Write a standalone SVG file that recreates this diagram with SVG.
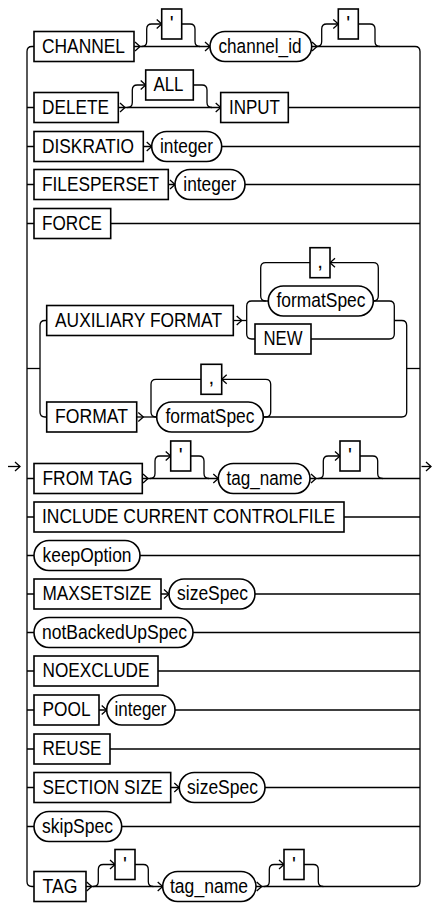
<svg xmlns="http://www.w3.org/2000/svg" xmlns:xlink="http://www.w3.org/1999/xlink" width="432" height="905" viewBox="0 0 432 905">
<style>
.ln{fill:none;stroke:#000;stroke-width:1.3}
.bx{fill:#fff;stroke:#000;stroke-width:1.6}
.t{font-family:"Liberation Sans",Arial,sans-serif;font-size:20.5px;fill:#000}
.c{text-anchor:middle}
</style>
<defs>
<path id="ar" d="M-5,-4.5 L0,0 L-5,4.5" fill="none" stroke="#000" stroke-width="1.3"/>
<path id="al" d="M5,-4.5 L0,0 L5,4.5" fill="none" stroke="#000" stroke-width="1.3"/>
</defs>
<rect width="432" height="905" fill="#fff"/>
<g id="connectors">
<path class="ln" d="M34,46.5 H32 Q27,46.5 27,51.5 V881.5 Q27,886.5 32,886.5 H34"/>
<path class="ln" d="M410,46.5 H415 Q420,46.5 420,51.5 V881.5 Q420,886.5 415,886.5 H410"/>
<path class="ln" d="M8,466.5 H20"/><use href="#ar" x="20" y="466.5"/>
<path class="ln" d="M421.5,466.5 H431"/><use href="#ar" x="431" y="466.5"/>
<!-- R1 -->
<path class="ln" d="M34,46.5 H410"/>
<path class="ln" d="M141.7,46.5 Q146.7,46.5 146.7,41.5 V29 Q146.7,24 151.7,24 H161.7"/>
<path class="ln" d="M181.7,24 H190 Q195,24 195,29 V41.5 Q195,46.5 200,46.5"/>
<path class="ln" d="M316.7,46.5 Q321.7,46.5 321.7,41.5 V29 Q321.7,24 326.7,24 H338.3"/>
<path class="ln" d="M358.3,24 H370 Q375,24 375,29 V41.5 Q375,46.5 380,46.5"/>
<use href="#ar" x="140" y="46.5"/><use href="#ar" x="161.7" y="24"/><use href="#ar" x="210" y="46.5"/>
<use href="#ar" x="317" y="46.5"/><use href="#ar" x="338.3" y="24"/>
<!-- R2 -->
<path class="ln" d="M27,107.5 H420"/>
<path class="ln" d="M127.3,107.5 Q132.3,107.5 132.3,102.5 V90 Q132.3,85 137.3,85 H145.7"/>
<path class="ln" d="M193.3,85 H202 Q207,85 207,90 V102.5 Q207,107.5 212,107.5"/>
<use href="#ar" x="125" y="107.5"/><use href="#ar" x="145.7" y="85"/><use href="#ar" x="220.7" y="107.5"/>
<!-- R3-R5 -->
<path class="ln" d="M27,146.5 H420"/><use href="#ar" x="151.7" y="146.5"/>
<path class="ln" d="M27,184.5 H420"/><use href="#ar" x="175" y="184.5"/>
<path class="ln" d="M27,223.5 H420"/>
<!-- group AUX / FORMAT -->
<path class="ln" d="M27,368.5 H40"/>
<path class="ln" d="M406.7,368.5 H420"/>
<path class="ln" d="M46.7,320.5 H45 Q40,320.5 40,325.5 V412 Q40,417 45,417 H46.7"/>
<path class="ln" d="M233.3,320.5 H246.7"/><use href="#ar" x="241.7" y="320.5"/>
<path class="ln" d="M268.3,301 H251.7 Q246.7,301 246.7,306 V334 Q246.7,339 251.7,339 H255"/>
<path class="ln" d="M310,262.7 H265.7 Q260.7,262.7 260.7,267.7 V296 Q260.7,301 265.7,301"/>
<path class="ln" d="M373.3,301 Q378.3,301 378.3,296 V267.7 Q378.3,262.7 373.3,262.7 H330"/>
<use href="#al" x="330" y="262.7"/>
<path class="ln" d="M373.3,301 H389.3 Q394.3,301 394.3,306 V334 Q394.3,339 389.3,339 H311"/>
<path class="ln" d="M394.3,320.5 H401.7 Q406.7,320.5 406.7,325.5 V412 Q406.7,417 401.7,417 H263.3"/>
<path class="ln" d="M136.7,417 H156.7"/><use href="#ar" x="143.3" y="417"/>
<path class="ln" d="M201,379.3 H156 Q151,379.3 151,384.3 V412 Q151,417 156,417"/>
<path class="ln" d="M263.3,417 H265.7 Q270.7,417 270.7,412 V384.3 Q270.7,379.3 265.7,379.3 H221.7"/>
<use href="#al" x="221.7" y="379.3"/>
<!-- R6 -->
<path class="ln" d="M27,478.5 H420"/>
<path class="ln" d="M150,478.5 Q155,478.5 155,473.5 V461 Q155,456 160,456 H170.7"/>
<path class="ln" d="M190.7,456 H199 Q204,456 204,461 V473.5 Q204,478.5 209,478.5"/>
<path class="ln" d="M318.3,478.5 Q323.3,478.5 323.3,473.5 V461 Q323.3,456 328.3,456 H340"/>
<path class="ln" d="M360,456 H372.7 Q377.7,456 377.7,461 V473.5 Q377.7,478.5 382.7,478.5"/>
<use href="#ar" x="148" y="478.5"/><use href="#ar" x="170.7" y="456"/><use href="#ar" x="218.3" y="478.5"/>
<use href="#ar" x="316" y="478.5"/><use href="#ar" x="340" y="456"/>
<!-- R7-R15 -->
<path class="ln" d="M27,517 H420"/>
<path class="ln" d="M27,555.5 H420"/>
<path class="ln" d="M27,594 H420"/><use href="#ar" x="169" y="594"/>
<path class="ln" d="M27,632.5 H420"/>
<path class="ln" d="M27,671 H420"/>
<path class="ln" d="M27,710 H420"/><use href="#ar" x="106.7" y="710"/>
<path class="ln" d="M27,749 H420"/>
<path class="ln" d="M27,787.5 H420"/><use href="#ar" x="179.3" y="787.5"/>
<path class="ln" d="M27,826.5 H420"/>
<!-- R16 -->
<path class="ln" d="M34,886.5 H410"/>
<path class="ln" d="M93.3,886.5 Q98.3,886.5 98.3,881.5 V869.5 Q98.3,864.5 103.3,864.5 H115"/>
<path class="ln" d="M135,864.5 H143.3 Q148.3,864.5 148.3,869.5 V881.5 Q148.3,886.5 153.3,886.5"/>
<path class="ln" d="M264.3,886.5 Q269.3,886.5 269.3,881.5 V869.5 Q269.3,864.5 274.3,864.5 H284"/>
<path class="ln" d="M304,864.5 H313.3 Q318.3,864.5 318.3,869.5 V881.5 Q318.3,886.5 323.3,886.5"/>
<use href="#ar" x="91.7" y="886.5"/><use href="#ar" x="115" y="864.5"/><use href="#ar" x="162.7" y="886.5"/>
<use href="#ar" x="261.7" y="886.5"/><use href="#ar" x="284" y="864.5"/>
</g>
<!-- R1 nodes -->
<g id="n-channel"><rect class="bx" x="34" y="31.5" width="100" height="30"/><text class="t" x="42" y="52.5" textLength="83" lengthAdjust="spacingAndGlyphs">CHANNEL</text></g>
<g id="n-q1"><rect class="bx" x="161.7" y="9" width="20" height="30"/><text class="t c" x="171.7" y="30">'</text></g>
<g id="n-channel_id"><rect class="bx" x="210" y="31.5" width="101.7" height="30" rx="15"/><text class="t" x="218.5" y="52.5" textLength="83" lengthAdjust="spacingAndGlyphs">channel_id</text></g>
<g id="n-q2"><rect class="bx" x="338.3" y="9" width="20" height="30"/><text class="t c" x="348.3" y="30">'</text></g>
<!-- R2 -->
<g id="n-delete"><rect class="bx" x="34" y="92.5" width="84.3" height="30"/><text class="t" x="42" y="113.5" textLength="67" lengthAdjust="spacingAndGlyphs">DELETE</text></g>
<g id="n-all"><rect class="bx" x="145.7" y="70" width="47.6" height="30"/><text class="t" x="153.5" y="91" textLength="30" lengthAdjust="spacingAndGlyphs">ALL</text></g>
<g id="n-input"><rect class="bx" x="220.7" y="92.5" width="67.6" height="30"/><text class="t" x="229" y="113.5" textLength="51" lengthAdjust="spacingAndGlyphs">INPUT</text></g>
<!-- R3 -->
<g id="n-diskratio"><rect class="bx" x="34" y="131.5" width="109.3" height="30"/><text class="t" x="42" y="152.5" textLength="92" lengthAdjust="spacingAndGlyphs">DISKRATIO</text></g>
<g id="n-integer1"><rect class="bx" x="151.7" y="131.5" width="70" height="30" rx="15"/><text class="t" x="160" y="152.5" textLength="53" lengthAdjust="spacingAndGlyphs">integer</text></g>
<!-- R4 -->
<g id="n-filesperset"><rect class="bx" x="34" y="169.5" width="134.3" height="30"/><text class="t" x="42" y="190.5" textLength="117" lengthAdjust="spacingAndGlyphs">FILESPERSET</text></g>
<g id="n-integer2"><rect class="bx" x="175" y="169.5" width="70" height="30" rx="15"/><text class="t" x="183.3" y="190.5" textLength="53" lengthAdjust="spacingAndGlyphs">integer</text></g>
<!-- R5 -->
<g id="n-force"><rect class="bx" x="34" y="208.5" width="76.7" height="30"/><text class="t" x="42" y="229.5" textLength="60" lengthAdjust="spacingAndGlyphs">FORCE</text></g>
<!-- group -->
<g id="n-auxformat"><rect class="bx" x="46.7" y="305.5" width="186.6" height="30"/><text class="t" x="55" y="326.5" textLength="167" lengthAdjust="spacingAndGlyphs">AUXILIARY FORMAT</text></g>
<g id="n-comma1"><rect class="bx" x="310" y="247.7" width="20" height="30"/><text class="t c" x="320" y="267.7">,</text></g>
<g id="n-formatspec1"><rect class="bx" x="268.3" y="286" width="105" height="30" rx="15"/><text class="t" x="276.5" y="307" textLength="89" lengthAdjust="spacingAndGlyphs">formatSpec</text></g>
<g id="n-new"><rect class="bx" x="255" y="324" width="56" height="30"/><text class="t" x="263.5" y="345" textLength="39" lengthAdjust="spacingAndGlyphs">NEW</text></g>
<g id="n-format"><rect class="bx" x="46.7" y="402" width="90" height="30"/><text class="t" x="55" y="423" textLength="73" lengthAdjust="spacingAndGlyphs">FORMAT</text></g>
<g id="n-comma2"><rect class="bx" x="201" y="364.3" width="20.7" height="30"/><text class="t c" x="211.3" y="384.3">,</text></g>
<g id="n-formatspec2"><rect class="bx" x="156.7" y="402" width="106.6" height="30" rx="15"/><text class="t" x="165.5" y="423" textLength="89" lengthAdjust="spacingAndGlyphs">formatSpec</text></g>
<!-- R6 -->
<g id="n-fromtag"><rect class="bx" x="34" y="463.5" width="108.3" height="30"/><text class="t" x="42.5" y="484.5" textLength="90" lengthAdjust="spacingAndGlyphs">FROM TAG</text></g>
<g id="n-q3"><rect class="bx" x="170.7" y="441" width="20" height="30"/><text class="t c" x="180.7" y="462">'</text></g>
<g id="n-tagname1"><rect class="bx" x="218.3" y="463.5" width="91.7" height="30" rx="15"/><text class="t" x="226.5" y="484.5" textLength="76" lengthAdjust="spacingAndGlyphs">tag_name</text></g>
<g id="n-q4"><rect class="bx" x="340" y="441" width="20" height="30"/><text class="t c" x="350" y="462">'</text></g>
<!-- R7 -->
<g id="n-include"><rect class="bx" x="34" y="502" width="310" height="30"/><text class="t" x="42" y="523" textLength="293" lengthAdjust="spacingAndGlyphs">INCLUDE CURRENT CONTROLFILE</text></g>
<!-- R8 -->
<g id="n-keepoption"><rect class="bx" x="34" y="540.5" width="106" height="30" rx="15"/><text class="t" x="42.5" y="561.5" textLength="89" lengthAdjust="spacingAndGlyphs">keepOption</text></g>
<!-- R9 -->
<g id="n-maxsetsize"><rect class="bx" x="34" y="579" width="127" height="30"/><text class="t" x="42.5" y="600" textLength="109" lengthAdjust="spacingAndGlyphs">MAXSETSIZE</text></g>
<g id="n-sizespec1"><rect class="bx" x="169" y="579" width="86" height="30" rx="15"/><text class="t" x="177" y="600" textLength="71" lengthAdjust="spacingAndGlyphs">sizeSpec</text></g>
<!-- R10 -->
<g id="n-notbackedupspec"><rect class="bx" x="34" y="617.5" width="159" height="30" rx="15"/><text class="t" x="42" y="638.5" textLength="145" lengthAdjust="spacingAndGlyphs">notBackedUpSpec</text></g>
<!-- R11 -->
<g id="n-noexclude"><rect class="bx" x="34" y="656" width="124" height="30"/><text class="t" x="42.5" y="677" textLength="107" lengthAdjust="spacingAndGlyphs">NOEXCLUDE</text></g>
<!-- R12 -->
<g id="n-pool"><rect class="bx" x="34" y="695" width="65" height="30"/><text class="t" x="42.5" y="716" textLength="48" lengthAdjust="spacingAndGlyphs">POOL</text></g>
<g id="n-integer3"><rect class="bx" x="106.7" y="695" width="68.3" height="30" rx="15"/><text class="t" x="114.5" y="716" textLength="52" lengthAdjust="spacingAndGlyphs">integer</text></g>
<!-- R13 -->
<g id="n-reuse"><rect class="bx" x="34" y="734" width="76" height="30"/><text class="t" x="42.5" y="755" textLength="59" lengthAdjust="spacingAndGlyphs">REUSE</text></g>
<!-- R14 -->
<g id="n-sectionsize"><rect class="bx" x="34" y="772.5" width="136.7" height="30"/><text class="t" x="42.5" y="793.5" textLength="120" lengthAdjust="spacingAndGlyphs">SECTION SIZE</text></g>
<g id="n-sizespec2"><rect class="bx" x="179.3" y="772.5" width="85.7" height="30" rx="15"/><text class="t" x="187" y="793.5" textLength="71" lengthAdjust="spacingAndGlyphs">sizeSpec</text></g>
<!-- R15 -->
<g id="n-skipspec"><rect class="bx" x="34" y="811.5" width="87.7" height="30" rx="15"/><text class="t" x="42" y="832.5" textLength="71" lengthAdjust="spacingAndGlyphs">skipSpec</text></g>
<!-- R16 -->
<g id="n-tag"><rect class="bx" x="34" y="871.5" width="52" height="30"/><text class="t" x="42.5" y="892.5" textLength="35" lengthAdjust="spacingAndGlyphs">TAG</text></g>
<g id="n-q5"><rect class="bx" x="115" y="849.5" width="20" height="30"/><text class="t c" x="125" y="870.5">'</text></g>
<g id="n-tagname2"><rect class="bx" x="162.7" y="871.5" width="93.3" height="30" rx="15"/><text class="t" x="170" y="892.5" textLength="78" lengthAdjust="spacingAndGlyphs">tag_name</text></g>
<g id="n-q6"><rect class="bx" x="284" y="849.5" width="20" height="30"/><text class="t c" x="294" y="870.5">'</text></g>
</svg>
